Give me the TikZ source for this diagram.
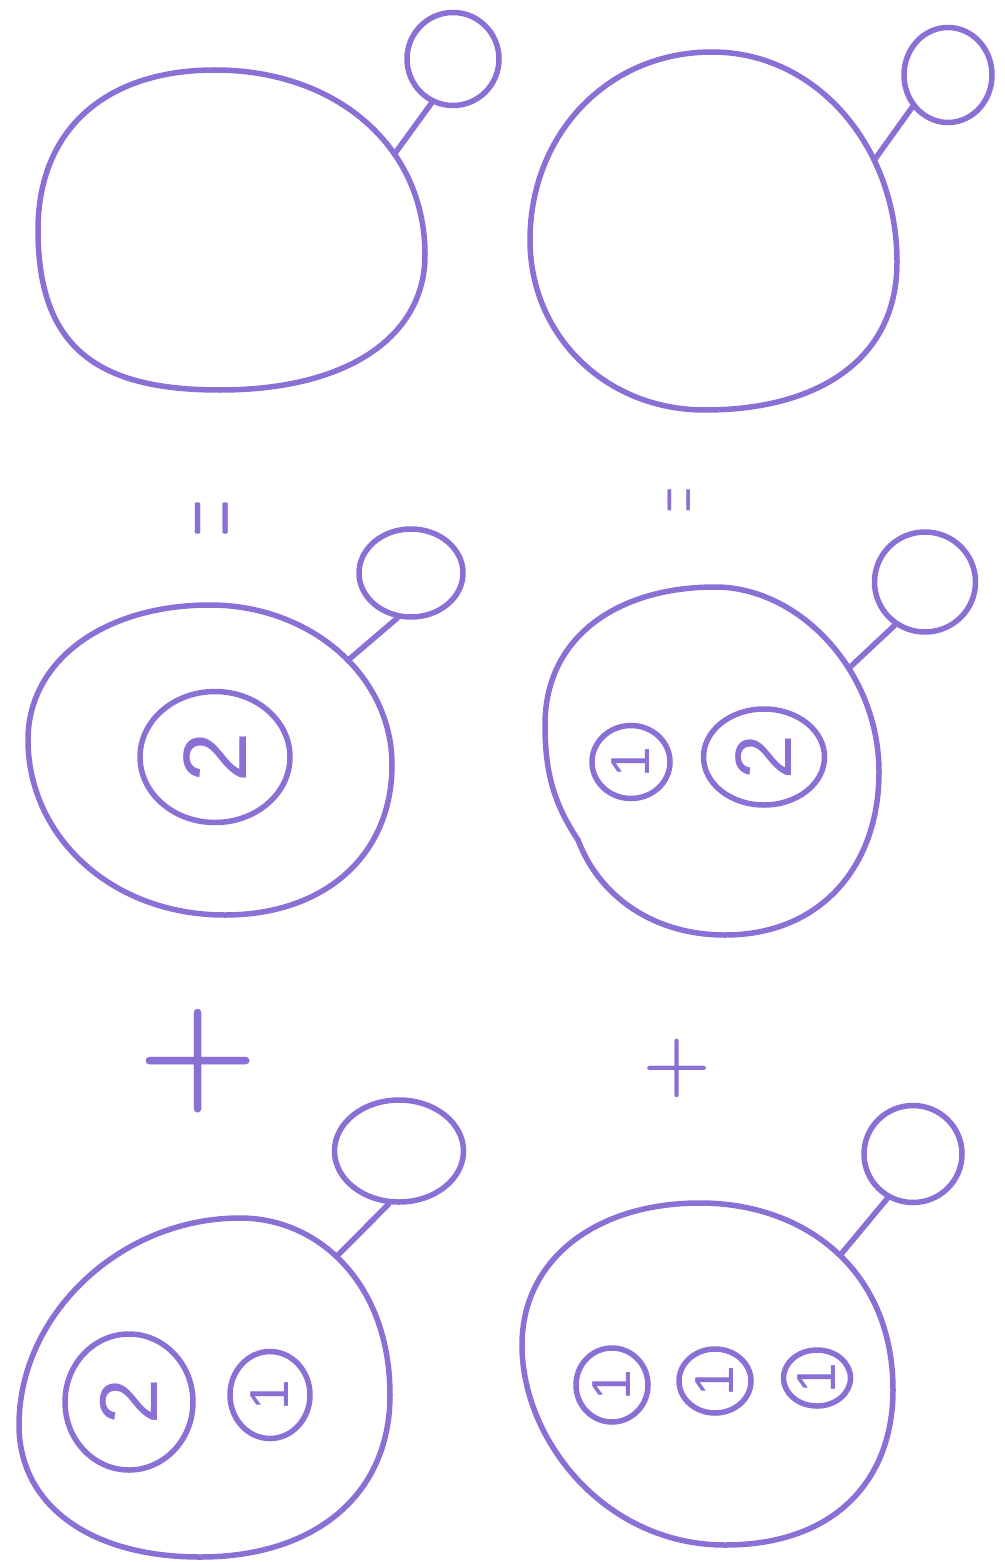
\documentclass[tikz,border=0pt]{standalone}
\usepackage{fontspec}
\newfontfamily\digitfont{Liberation Sans}
\usetikzlibrary{shapes.geometric}
\definecolor{ink}{RGB}{138,112,212}
\begin{document}
\begin{tikzpicture}[x=1pt,y=-1pt,
  pen/.style={draw=ink,line width=5.5pt,line cap=round,line join=round},
  head/.style={pen,ellipse,inner sep=0pt},
  bubble/.style={pen,ellipse,inner sep=0pt,text=ink},
  sym/.style={text=ink,inner sep=0pt}]
\fill[white] (0,0) rectangle (1004,1562);

% ---------- top left ----------
\draw[pen] (38,230) .. controls (38,130) and (105,70) .. (215,70)
  .. controls (335,70) and (425,145) .. coordinate[pos=0.65] (tlA) (425,255)
  .. controls (425,335) and (350,390) .. (220,390)
  .. controls (100,390) and (38,350) .. cycle;
\node[head,minimum width=92,minimum height=93] (tlS) at (453,59) {};
\draw[pen] (tlA) -- (tlS.244);

% ---------- top right ----------
\draw[pen] (530,240) .. controls (530,135) and (607,52) .. (712,52)
  .. controls (817,52) and (897,147) .. coordinate[pos=0.68] (trA) (897,262)
  .. controls (897,362) and (815,410) .. (705,410)
  .. controls (605,410) and (530,335) .. cycle;
\node[head,minimum width=88,minimum height=95] (trS) at (948,75) {};
\draw[pen] (trA) -- (trS.222);

% ---------- "=" signs ----------
\node[sym] (eqL) at (223,518) {\rotatebox{90}{\fontsize{50}{50}\selectfont\scalebox{1}[3.1]{=}}};
\node[sym] (eqR) at (687,500) {\rotatebox{90}{\fontsize{34}{34}\selectfont\scalebox{1}[3.1]{=}}};

% ---------- middle left ----------
\draw[pen] (28,740) .. controls (28,660) and (105,605) .. (210,605)
  .. controls (310,605) and (392,675) .. coordinate[pos=0.55] (mlA) (392,765)
  .. controls (392,855) and (325,915) .. (225,915)
  .. controls (110,915) and (28,835) .. cycle;
\node[head,minimum width=104,minimum height=88] (mlS) at (411,573) {};
\draw[pen] (mlA) -- (mlS.253);
\node[bubble,minimum width=150,minimum height=131,font={\digitfont\fontsize{90}{90}\selectfont}] (ml2) at (215,757) {\rotatebox{90}{2}};

% ---------- middle right ----------
\draw[pen] (545,725) .. controls (545,635) and (620,587) .. (715,587)
  .. controls (800,587) and (879,672) .. coordinate[pos=0.62] (mrA) (879,772)
  .. controls (879,867) and (820,935) .. (725,935)
  .. controls (655,935) and (600,898) .. (578,840)
  .. controls (555,805) and (545,775) .. cycle;
\node[head,minimum width=101,minimum height=100] (mrS) at (925,582) {};
\draw[pen] (mrA) -- (mrS.235);
\node[bubble,minimum width=78,minimum height=73,font={\digitfont\fontsize{55}{55}\selectfont}] (mr1) at (631,762) {\rotatebox{90}{1}};
\node[bubble,minimum width=121,minimum height=96,font={\digitfont\fontsize{80}{80}\selectfont}] (mr2) at (764,757) {\rotatebox{90}{2}};

% ---------- "+" signs ----------
\node[sym] (plL) at (198,1061) {\rotatebox{90}{\fontsize{138}{138}\selectfont\bfseries +}};
\node[sym] (plR) at (677,1068) {\rotatebox{90}{\fontsize{78}{78}\selectfont\bfseries +}};

% ---------- bottom left ----------
\draw[pen] (19,1425) .. controls (19,1315) and (120,1218) .. (240,1218)
  .. controls (320,1218) and (390,1285) .. coordinate[pos=0.45] (blA) (390,1395)
  .. controls (390,1495) and (315,1557) .. (200,1557)
  .. controls (90,1557) and (19,1505) .. cycle;
\node[head,minimum width=129,minimum height=102] (blS) at (399,1151) {};
\draw[pen] (blA) -- (blS.259);
\node[bubble,minimum width=128,minimum height=136,font={\digitfont\fontsize{82}{82}\selectfont}] (bl2) at (129,1402) {\rotatebox{90}{2}};
\node[bubble,minimum width=80,minimum height=87,font={\digitfont\fontsize{55}{55}\selectfont}] (bl1) at (270,1395) {\rotatebox{90}{1}};

% ---------- bottom right ----------
\draw[pen] (522,1345) .. controls (522,1260) and (595,1203) .. (700,1203)
  .. controls (805,1203) and (893,1270) .. coordinate[pos=0.52] (brA) (893,1390)
  .. controls (893,1480) and (835,1545) .. (725,1545)
  .. controls (605,1545) and (522,1440) .. cycle;
\node[head,minimum width=98,minimum height=97] (brS) at (913,1154) {};
\draw[pen] (brA) -- (brS.240);
\node[bubble,minimum width=72,minimum height=74,font={\digitfont\fontsize{55}{55}\selectfont}] (br1a) at (612,1385) {\rotatebox{90}{1}};
\node[bubble,minimum width=72,minimum height=64,font={\digitfont\fontsize{55}{55}\selectfont}] (br1b) at (715,1381) {\rotatebox{90}{1}};
\node[bubble,minimum width=67,minimum height=56,font={\digitfont\fontsize{55}{55}\selectfont}] (br1c) at (817,1378) {\rotatebox{90}{1}};
\end{tikzpicture}
\end{document}
